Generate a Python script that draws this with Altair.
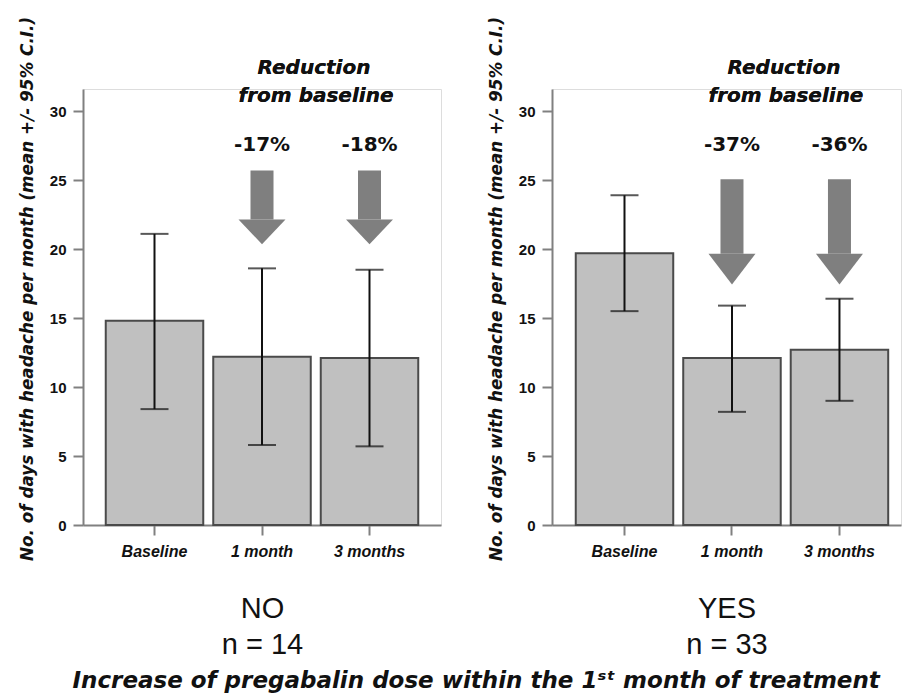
import altair as alt
import pandas as pd

# ---------------- data ----------------
categories = ["Baseline", "1 month", "3 months"]

no_mean = [14.8, 12.2, 12.1]
no_low = [8.4, 5.8, 5.7]
no_high = [21.1, 18.6, 18.5]

yes_mean = [19.7, 12.1, 12.7]
yes_low = [15.5, 8.2, 9.0]
yes_high = [23.9, 15.9, 16.4]

arrow_periods = ["1 month", "3 months"]
no_reduction = ["-17%", "-18%"]
yes_reduction = ["-37%", "-36%"]

# arrow geometry in data units: shaft top, head base, tip
no_arrow = [25.7, 22.15, 20.35]
yes_arrow = [25.05, 19.66, 17.44]

no_group = ["NO", "n = 14"]
yes_group = ["YES", "n = 33"]

y_title = "No. of days with headache per month (mean +/- 95% C.I.)"
bottom_title = "Increase of pregabalin dose within the 1\u02e2\u1d57 month of treatment"

BAR_FILL = "#c0c0c0"
BAR_STROKE = "#4a4a4a"
ARROW = "#7f7f7f"
AXIS = "#808080"
INK = "#111111"


def panel(mean, low, high, reductions, arrow, group, width, pad_outer, align):
    df = pd.DataFrame({"period": categories, "mean": mean, "low": low, "high": high})
    adf = pd.DataFrame({
        "period": arrow_periods,
        "label": reductions,
        "top": [arrow[0]] * 2,
        "base": [arrow[1]] * 2,
        "tip": [arrow[2]] * 2,
    })
    xscale = alt.Scale(domain=categories, paddingInner=0.093,
                       paddingOuter=pad_outer, align=align)
    yscale = alt.Scale(domain=[0, 31.6], nice=False, zero=True)

    x_main = alt.X(
        "period:N", sort=categories, scale=xscale,
        axis=alt.Axis(
            title=group, labelAngle=0, labelFont="Liberation Sans",
            labelFontWeight="bold", labelFontStyle="italic", labelFontSize=16,
            labelColor=INK, labelPadding=8, tickSize=10, tickWidth=2,
            tickColor=AXIS, domainColor=AXIS, domainWidth=2,
            titleFont="Liberation Sans", titleFontSize=29,
            titleFontWeight="normal", titleColor=INK, titleLineHeight=36.6,
            titlePadding=35,
        ),
    )
    y_main = alt.Y(
        "mean:Q", scale=yscale,
        axis=alt.Axis(
            values=[0, 5, 10, 15, 20, 25, 30], grid=False, title=y_title,
            labelFont="Liberation Sans", labelFontWeight="bold",
            labelFontSize=15, labelColor=INK, labelPadding=7, tickSize=10,
            tickWidth=2, tickColor=AXIS, domainColor=AXIS, domainWidth=2,
            titleFont="DejaVu Sans", titleFontSize=16.8,
            titleFontStyle="italic", titleFontWeight="bold", titleColor=INK,
            titlePadding=13, titleY=199.5,
        ),
    )
    xs = alt.X("period:N", sort=categories, scale=xscale)

    bars = alt.Chart(df).mark_bar(
        color=BAR_FILL, stroke=BAR_STROKE, strokeWidth=2
    ).encode(x=x_main, y=y_main)

    err = alt.Chart(df).mark_rule(color=INK, strokeWidth=2).encode(
        x=xs, y=alt.Y("low:Q", scale=yscale), y2="high:Q")
    cap_hi = alt.Chart(df).mark_tick(color=INK, size=28, thickness=2).encode(
        x=xs, y=alt.Y("high:Q", scale=yscale))
    cap_lo = alt.Chart(df).mark_tick(color=INK, size=28, thickness=2).encode(
        x=xs, y=alt.Y("low:Q", scale=yscale))

    shaft = alt.Chart(adf).mark_bar(width=23, color=ARROW).encode(
        x=xs, y=alt.Y("top:Q", scale=yscale), y2="base:Q")

    head_px = (arrow[1] - arrow[2]) * 13.8
    h = 2 * head_px / 47.0
    head = alt.Chart(adf).mark_point(
        shape=f"M-1,0L1,0L0,{h:.3f}Z", size=47 * 47, filled=True,
        color=ARROW, opacity=1, strokeWidth=0,
    ).encode(x=xs, y=alt.Y("base:Q", scale=yscale))

    pct = alt.Chart(adf).mark_text(
        font="DejaVu Sans", fontWeight="bold", fontSize=20, color=INK,
        baseline="alphabetic", align="center",
    ).encode(x=xs, y=alt.datum(27.1), text="label:N")

    red1 = alt.Chart(adf).mark_text(
        font="DejaVu Sans", fontWeight="bold", fontStyle="italic",
        fontSize=20, color=INK, baseline="alphabetic", align="center", dx=52,
        text="Reduction",
    ).encode(x=alt.datum("1 month"), y=alt.datum(32.7))
    red2 = alt.Chart(adf).mark_text(
        font="DejaVu Sans", fontWeight="bold", fontStyle="italic",
        fontSize=20, color=INK, baseline="alphabetic", align="center", dx=54,
        text="from baseline",
    ).encode(x=alt.datum("1 month"), y=alt.datum(30.67))

    return alt.layer(
        bars, err, cap_hi, cap_lo, shaft, head, pct, red1, red2
    ).properties(width=width, height=436)


left = panel(no_mean, no_low, no_high, no_reduction, no_arrow, no_group,
             358, 0.2116, 0.5)
right = panel(yes_mean, yes_low, yes_high, yes_reduction, yes_arrow, yes_group,
              349, 0.170, 0.65)

chart = alt.hconcat(left, right, spacing=45).properties(
    title=alt.TitleParams(
        bottom_title, orient="bottom", anchor="middle", font="DejaVu Sans",
        fontSize=23, fontStyle="italic", fontWeight="bold", color=INK,
        offset=10, dx=16,
    ),
    padding={"left": 10, "top": 7, "right": 0, "bottom": 0},
).configure_view(stroke=None).configure(font="Liberation Sans", background="white")

chart.save("out.html", embed_options={"renderer": "svg", "actions": False})
